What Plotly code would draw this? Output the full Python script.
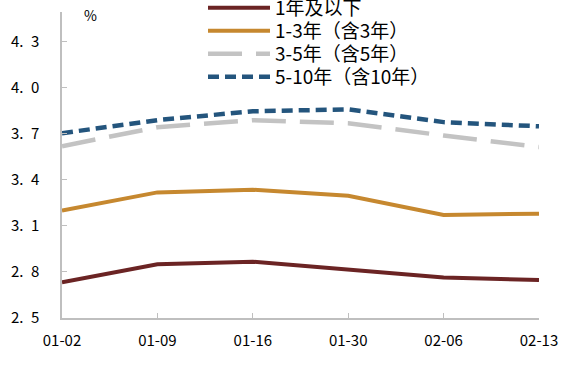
import plotly.graph_objects as go

dates = ["01-02", "01-09", "01-16", "01-30", "02-06", "02-13"]
y_1y = [2.733, 2.850, 2.867, 2.813, 2.764, 2.748]
y_1_3 = [3.200, 3.319, 3.336, 3.297, 3.172, 3.180]
y_3_5 = [3.620, 3.744, 3.790, 3.770, 3.690, 3.615]
y_5_10 = [3.705, 3.790, 3.848, 3.860, 3.777, 3.750]

names = ["1年及以下", "1-3年（含3年）", "3-5年（含5年）", "5-10年（含10年）"]
colors = ["#6b2424", "#c6882f", "#c3c3c3", "#24557d"]
dashes = ["solid", "solid", "34px,14px", "11px,6px"]
widths = [4, 4, 4.5, 4.5]
series = [y_1y, y_1_3, y_3_5, y_5_10]
legend_ids = ["legend", "legend2", "legend3", "legend4"]
legend_row_px = [8, 31, 54, 77]

ytick_vals = [2.5, 2.8, 3.1, 3.4, 3.7, 4.0, 4.3]
ytick_text = ["2.\u20025", "2.\u20028", "3.\u20021", "3.\u20024", "3.\u20027", "4.\u20020", "4.\u20023"]

font = "Noto Sans CJK SC, DejaVu Sans, sans-serif"

W, H = 583, 371
ML, MR, MT, MB = 62, 44, 12, 53
PW, PH = W - ML - MR, H - MT - MB

fig = go.Figure()
for n, c, d, w, ys, lg in zip(names, colors, dashes, widths, series, legend_ids):
    fig.add_trace(go.Scatter(
        x=dates, y=ys, mode="lines", name=n, legend=lg,
        line=dict(color=c, width=w, dash=d),
    ))

legend_common = dict(
    xanchor="left", yanchor="middle",
    font=dict(size=19, family=font, color="black"),
    bgcolor="rgba(0,0,0,0)", itemwidth=62,
)
legend_x = (203 - ML) / PW
legends = {}
for lg, ypx in zip(legend_ids, legend_row_px):
    legends[lg] = dict(legend_common, x=legend_x, y=1 - (ypx - MT) / PH)

fig.update_layout(
    width=W, height=H,
    margin=dict(l=ML, r=MR, t=MT, b=MB, autoexpand=False),
    paper_bgcolor="white", plot_bgcolor="white",
    font=dict(family=font, color="black"),
    showlegend=True,
    xaxis=dict(
        type="category", range=[0, 5],
        showline=True, linecolor="#bfbfbf", linewidth=1.5,
        ticks="inside", ticklen=5, tickcolor="#bfbfbf",
        showgrid=False, zeroline=False,
        tickfont=dict(size=15, family=font, color="black"),
        ticklabelstandoff=8,
    ),
    yaxis=dict(
        range=[2.5, 4.495],
        tickvals=ytick_vals, ticktext=ytick_text,
        showline=True, linecolor="#bfbfbf", linewidth=1.5,
        ticks="inside", ticklen=5, tickcolor="#bfbfbf",
        showgrid=False, zeroline=False,
        tickfont=dict(size=15, family=font, color="black"),
        ticklabelstandoff=18,
    ),
    annotations=[dict(
        text="%", xref="paper", yref="paper", x=(90 - ML) / PW, y=1 - (15 - MT) / PH,
        showarrow=False, xanchor="center", yanchor="middle",
        font=dict(size=14, family=font, color="black"),
    )],
    **legends,
)

fig.write_html(
    "out.html",
    config={"displayModeBar": False},
    post_script="document.body.style.margin='0';document.body.style.overflow='hidden';",
)
